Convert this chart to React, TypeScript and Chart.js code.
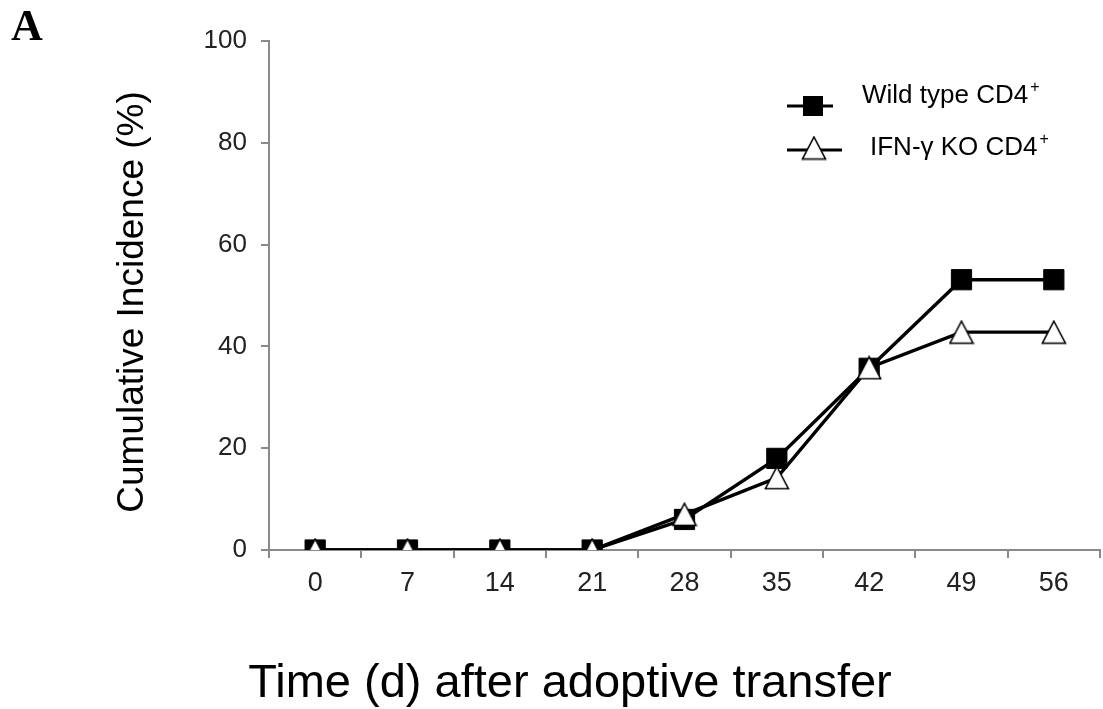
import React, { useEffect, useRef } from "react";
import { Chart, registerables } from "chart.js";

Chart.register(...registerables);

const categories = ["0", "7", "14", "21", "28", "35", "42", "49", "56"];
const wildTypeValues = [0, 0, 0, 0, 6, 18, 35.7, 53.1, 53.1];
const ifnKoValues = [0, 0, 0, 0, 7, 14.2, 35.8, 42.8, 42.8];
const yTicks = [0, 20, 40, 60, 80, 100];
const seriesNames = ["Wild type CD4", "IFN-γ KO CD4"];
const panelLabel = "A";
const yTitle = "Cumulative Incidence (%)";
const xTitle = "Time (d) after adoptive transfer";

const SANS = "'Liberation Sans', Arial, Helvetica, sans-serif";
const AXIS_GRAY = "#8a8a8a";

function makeTriangle(): HTMLCanvasElement {
  const c = document.createElement("canvas");
  c.width = 26;
  c.height = 25;
  const ctx = c.getContext("2d")!;
  ctx.beginPath();
  ctx.moveTo(13, 1.5);
  ctx.lineTo(24.5, 23.5);
  ctx.lineTo(1.5, 23.5);
  ctx.closePath();
  ctx.fillStyle = "#ffffff";
  ctx.fill();
  ctx.lineWidth = 1.6;
  ctx.strokeStyle = "#000000";
  ctx.lineJoin = "miter";
  ctx.stroke();
  return c;
}

export default function App() {
  const canvasRef = useRef<HTMLCanvasElement | null>(null);

  useEffect(() => {
    if (!canvasRef.current) return;
    const tri = makeTriangle();

    const decor = {
      id: "decor",
      afterDraw(chart: any) {
        const ctx = chart.ctx as CanvasRenderingContext2D;
        ctx.save();
        // Panel label
        ctx.fillStyle = "#000";
        ctx.font = `bold 44px 'Liberation Serif', 'Times New Roman', serif`;
        ctx.textAlign = "left";
        ctx.textBaseline = "alphabetic";
        ctx.fillText(panelLabel, 11, 40);

        // Y title
        ctx.save();
        ctx.translate(143, 302);
        ctx.rotate(-Math.PI / 2);
        ctx.font = `37px ${SANS}`;
        ctx.textAlign = "center";
        ctx.fillText(yTitle, 0, 0);
        ctx.restore();

        // X title
        ctx.font = `47px ${SANS}`;
        ctx.textAlign = "center";
        ctx.fillText(xTitle, 570, 697);

        // Legend
        ctx.strokeStyle = "#000";
        ctx.lineWidth = 3;
        ctx.beginPath();
        ctx.moveTo(787, 106);
        ctx.lineTo(833, 106);
        ctx.stroke();
        ctx.fillStyle = "#000";
        ctx.fillRect(803, 96, 20, 20);

        ctx.beginPath();
        ctx.moveTo(787, 150);
        ctx.lineTo(842, 150);
        ctx.stroke();
        ctx.drawImage(tri, 814 - 13, 148 - 12.5);

        ctx.textAlign = "left";
        ctx.font = `26px ${SANS}`;
        ctx.fillText(seriesNames[0], 862, 103);
        let w = ctx.measureText(seriesNames[0]).width;
        ctx.font = `16px ${SANS}`;
        ctx.fillText("+", 862 + w + 2, 92);

        ctx.font = `26px ${SANS}`;
        ctx.fillText(seriesNames[1], 870, 155);
        w = ctx.measureText(seriesNames[1]).width;
        ctx.font = `16px ${SANS}`;
        ctx.fillText("+", 870 + w + 2, 144);
        ctx.restore();
      },
    };

    const chart = new Chart(canvasRef.current, {
      type: "line",
      data: {
        labels: categories,
        datasets: [
          {
            label: seriesNames[0],
            data: wildTypeValues,
            borderColor: "#000",
            borderWidth: 3.4,
            backgroundColor: "#000",
            pointStyle: "rect",
            pointRadius: 14.3,
            pointBorderWidth: 1,
            pointBorderColor: "#000",
            pointBackgroundColor: "#000",
            tension: 0,
            order: 1,
          },
          {
            label: seriesNames[1],
            data: ifnKoValues,
            borderColor: "#000",
            borderWidth: 3.4,
            backgroundColor: "#fff",
            pointStyle: tri,
            pointRadius: 12,
            tension: 0,
            order: 0,
          },
        ],
      },
      options: {
        responsive: true,
        maintainAspectRatio: false,
        animation: false,
        layout: {
          autoPadding: false,
          padding: { left: 0, top: 41, right: 3, bottom: 0 },
        },
        plugins: {
          legend: { display: false },
          tooltip: { enabled: false },
          title: { display: false },
        },
        scales: {
          x: {
            type: "category",
            offset: true,
            grid: {
              offset: true,
              drawOnChartArea: false,
              drawTicks: true,
              tickLength: 8,
              color: AXIS_GRAY,
              lineWidth: 2,
            },
            border: { color: AXIS_GRAY, width: 2 },
            ticks: {
              color: "#222",
              font: { family: SANS, size: 27 },
              padding: 9,
              maxRotation: 0,
            },
            afterFit: (scale: any) => {
              scale.height = 159;
              scale.paddingLeft = 0;
              scale.paddingRight = 0;
            },
          },
          y: {
            min: 0,
            max: 100,
            afterBuildTicks: (scale: any) => {
              scale.ticks = yTicks.map((v) => ({ value: v }));
            },
            grid: {
              drawOnChartArea: false,
              drawTicks: true,
              tickLength: 8,
              color: AXIS_GRAY,
              lineWidth: 2,
            },
            border: { color: AXIS_GRAY, width: 2 },
            ticks: {
              color: "#222",
              font: { family: SANS, size: 26 },
              padding: 14,
            },
            afterFit: (scale: any) => {
              scale.width = 269;
            },
          },
        },
      },
      plugins: [decor],
    });

    return () => chart.destroy();
  }, []);

  return (
    <div
      style={{
        position: "absolute",
        left: 0,
        top: 0,
        width: 1103,
        height: 709,
        background: "#fff",
      }}
    >
      <canvas ref={canvasRef} />
    </div>
  );
}
